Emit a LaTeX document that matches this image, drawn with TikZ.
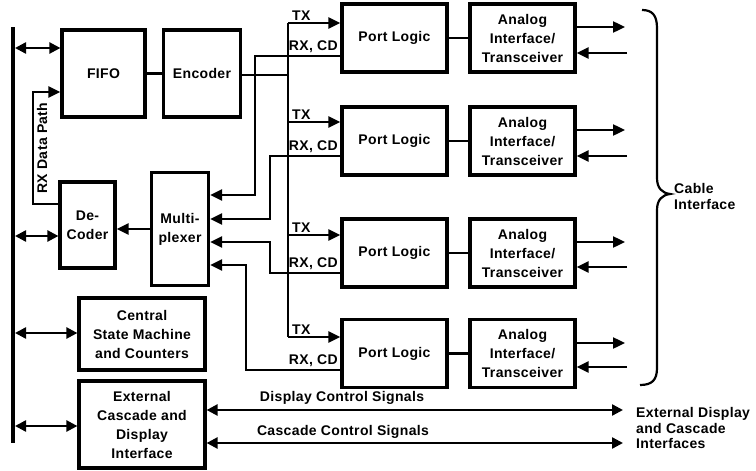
\documentclass[tikz,border=0pt]{standalone}
\usepackage{fontspec}
\setmainfont[LetterSpace=2.5]{Liberation Sans}
\usetikzlibrary{arrows.meta,calc}
\begin{document}
\begin{tikzpicture}[x=1pt,y=-1pt,
  font=\bfseries\fontsize{14}{19}\selectfont,
  box/.style={draw,line width=3.2pt,align=center,inner sep=0pt},
  wire/.style={line width=2.4pt},
  arr/.style={line width=2.4pt,-{Triangle[length=12pt,width=11pt]}},
  darr/.style={line width=2.4pt,{Triangle[length=11pt,width=11pt]}-{Triangle[length=11pt,width=11pt]}},
  lbl/.style={inner sep=1pt}]
\useasboundingbox (0,0) rectangle (756,471);

% blocks
\node[box,minimum width=83pt,minimum height=87pt] (fifo) at (103.5,73.5) {FIFO};
\node[box,minimum width=77pt,minimum height=87pt] (enc) at (202,73.5) {Encoder};
\node[box,minimum width=55pt,minimum height=86pt] (dec) at (87.5,225) {De-\\Coder};
\node[box,minimum width=57pt,minimum height=113pt] (mux) at (180,229) {Multi-\\plexer};
\node[box,minimum width=126pt,minimum height=72pt] (csm) at (142,334) {Central\\State Machine\\and Counters};
\node[box,minimum width=126pt,minimum height=87pt] (ext) at (142,424.5) {External\\Cascade and\\Display\\Interface};

\foreach \i/\y in {1/38,2/141,3/253,4/353.5}{
  \node[box,minimum width=105pt,minimum height=68pt] (p\i) at (394.5,\y) {Port Logic};
  \node[box,minimum width=105pt,minimum height=68pt] (a\i) at (522.5,\y) {Analog\\Interface/\\Transceiver};
  \draw[wire] (p\i) -- (a\i);
}

% bus
\coordinate (bustop) at (13,27);
\coordinate (busbot) at (13,443);
\draw[line width=4pt] (bustop) -- (busbot);
\coordinate (b1) at (15,48);
\coordinate (b2) at (15,236);
\coordinate (b3) at (15,333);
\coordinate (b4) at (15,426);
\draw[darr] (b1) -- (b1 -| fifo.west);
\draw[darr] (b2) -- (b2 -| dec.west);
\draw[darr] (b3) -- (b3 -| csm.west);
\draw[darr] (b4) -- (b4 -| ext.west);

% RX data path
\coordinate (rdp) at (33,92);
\draw[arr] (dec.west |- 0,204) -| (rdp) -- (rdp -| fifo.west);
\node[lbl,rotate=90] (rdl) at (42,148) {RX Data Path};

% FIFO - encoder
\draw[wire] (fifo) -- (enc);

% TX bus
\coordinate (tx1) at (288,23);
\coordinate (tx2) at (288,122);
\coordinate (tx3) at (288,235);
\coordinate (tx4) at (288,337);
\draw[wire] (tx1) -- (tx4);
\draw[wire] (enc.east |- 0,75) -- (288,75);
\foreach \i in {1,2,3,4}{
  \draw[arr] (tx\i) -- (tx\i -| p\i.west);
  \node[lbl,anchor=south west] (txl\i) at ($(tx\i)+(3,-1.5)$) {TX};
}

% RX, CD returns to multiplexer
\coordinate (m1) at (255,195);
\coordinate (m2) at (270,219);
\coordinate (m3) at (270,242);
\coordinate (m4) at (246,265);
\draw[arr] (p1.west |- 0,56) -| (m1) -- (m1 -| mux.east);
\draw[arr] (p2.west |- 0,156) -| (m2) -- (m2 -| mux.east);
\draw[arr] (p3.west |- 0,273) -| (m3) -- (m3 -| mux.east);
\draw[arr] (p4.west |- 0,370) -| (m4) -- (m4 -| mux.east);
\foreach \i/\y in {1/56,2/156,3/273,4/370}{
  \node[lbl,anchor=south east] (rxl\i) at (339,\y-2.5) {RX, CD};
}

% multiplexer -> decoder
\draw[arr] (mux.west |- 0,229) -- (dec.east |- 0,229);

% analog side arrows
\foreach \i/\yo/\yi in {1/27/53,2/130/156,3/242/267,4/343/367}{
  \coordinate (o\i) at (625,\yo);
  \coordinate (n\i) at (627,\yi);
  \draw[arr] (a\i.east |- o\i) -- (o\i);
  \draw[arr] (n\i) -- (n\i -| a\i.east);
}

% brace
\draw[line width=2.2pt] (642,10) .. controls (652,10) and (657,15) .. (657,28) -- (657,178)
  .. controls (657,188) and (662,193) .. (670,194) .. controls (662,195) and (657,200) .. (657,210)
  -- (657,368) .. controls (657,380) and (652,385) .. (640,385);
\node[lbl,anchor=west,align=left,font=\bfseries\fontsize{14}{16}\selectfont] (cable) at (673,196) {Cable\\Interface};

% external signals
\coordinate (e1) at (623,410);
\coordinate (e2) at (623,443);
\draw[darr] (ext.east |- e1) -- (e1);
\draw[darr] (ext.east |- e2) -- (e2);
\node[lbl] (dcs) at (342,398) {Display Control Signals};
\node[lbl] (ccs) at (343,432) {Cascade Control Signals};
\node[lbl,anchor=west,align=left,font=\bfseries\fontsize{14}{15.5}\selectfont] (edci) at (635,428) {External Display\\and Cascade\\Interfaces};
\end{tikzpicture}
\end{document}
